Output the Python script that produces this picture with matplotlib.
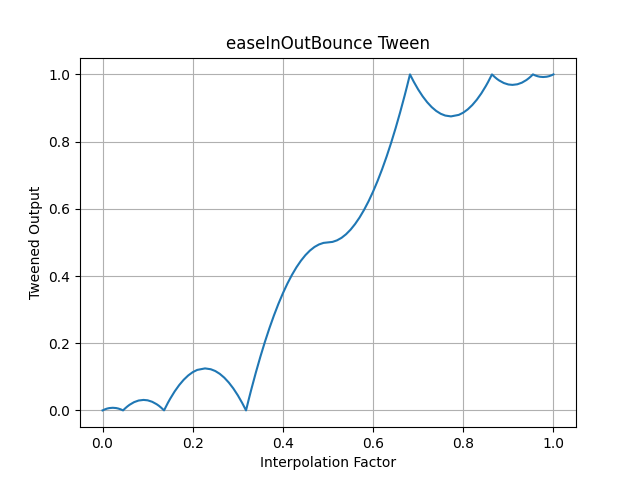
import matplotlib
matplotlib.use("Agg")
import matplotlib.pyplot as plt

# values
factor = [
    0.0, 0.005, 0.01, 0.015, 0.0227, 0.03, 0.035, 0.04, 0.0455, 0.05,
    0.055, 0.06, 0.07, 0.08, 0.0909, 0.10, 0.11, 0.12, 0.125, 0.13,
    0.1364, 0.145, 0.15, 0.16, 0.17, 0.18, 0.19, 0.20, 0.21, 0.2273,
    0.24, 0.25, 0.26, 0.27, 0.28, 0.29, 0.30, 0.31, 0.3182, 0.325,
    0.33, 0.34, 0.35, 0.36, 0.37, 0.38, 0.39, 0.40, 0.41, 0.42,
    0.43, 0.44, 0.45, 0.46, 0.47, 0.48, 0.49, 0.50, 0.51, 0.52,
    0.53, 0.54, 0.55, 0.56, 0.57, 0.58, 0.59, 0.60, 0.61, 0.62,
    0.63, 0.64, 0.65, 0.66, 0.67, 0.675, 0.6818, 0.69, 0.70, 0.71,
    0.72, 0.73, 0.74, 0.75, 0.76, 0.7727, 0.79, 0.80, 0.81, 0.82,
    0.83, 0.84, 0.85, 0.855, 0.8636, 0.87, 0.875, 0.88, 0.89, 0.90,
    0.9091, 0.92, 0.93, 0.94, 0.945, 0.95, 0.9545, 0.96, 0.965, 0.97,
    0.9773, 0.985, 0.99, 0.995, 1.0,
]
output = [
    0.0, 0.003, 0.0054, 0.0069, 0.0078, 0.007, 0.0055, 0.0033, 0.0, 0.0059,
    0.0117, 0.0168, 0.0246, 0.0294, 0.0312, 0.03, 0.0257, 0.0184, 0.0137, 0.0081,
    0.0, 0.0227, 0.0347, 0.0566, 0.0754, 0.0912, 0.104, 0.1138, 0.1205, 0.125,
    0.1225, 0.1172, 0.1088, 0.0974, 0.0829, 0.0654, 0.0449, 0.0214, 0.0, 0.0368,
    0.0629, 0.1128, 0.1597, 0.2036, 0.2444, 0.2822, 0.317, 0.3487, 0.3775, 0.4032,
    0.4259, 0.4455, 0.4622, 0.4758, 0.4864, 0.4939, 0.4985, 0.5, 0.5015, 0.5061,
    0.5136, 0.5242, 0.5378, 0.5545, 0.5741, 0.5968, 0.6225, 0.6513, 0.683, 0.7178,
    0.7556, 0.7964, 0.8403, 0.8872, 0.9371, 0.9632, 1.0, 0.9786, 0.9551, 0.9346,
    0.9171, 0.9026, 0.8912, 0.8828, 0.8775, 0.875, 0.8795, 0.8862, 0.896, 0.9088,
    0.9246, 0.9434, 0.9653, 0.9773, 1.0, 0.9919, 0.9863, 0.9816, 0.9743, 0.97,
    0.9688, 0.9706, 0.9754, 0.9832, 0.9883, 0.9941, 1.0, 0.9967, 0.9945, 0.993,
    0.9922, 0.9931, 0.9946, 0.997, 1.0,
]

fig, ax = plt.subplots(figsize=(6.4, 4.8), dpi=100)
ax.plot(factor, output)
ax.set_title("easeInOutBounce Tween")
ax.set_xlabel("Interpolation Factor")
ax.set_ylabel("Tweened Output")
ax.grid(True)
fig.savefig("out.png")
